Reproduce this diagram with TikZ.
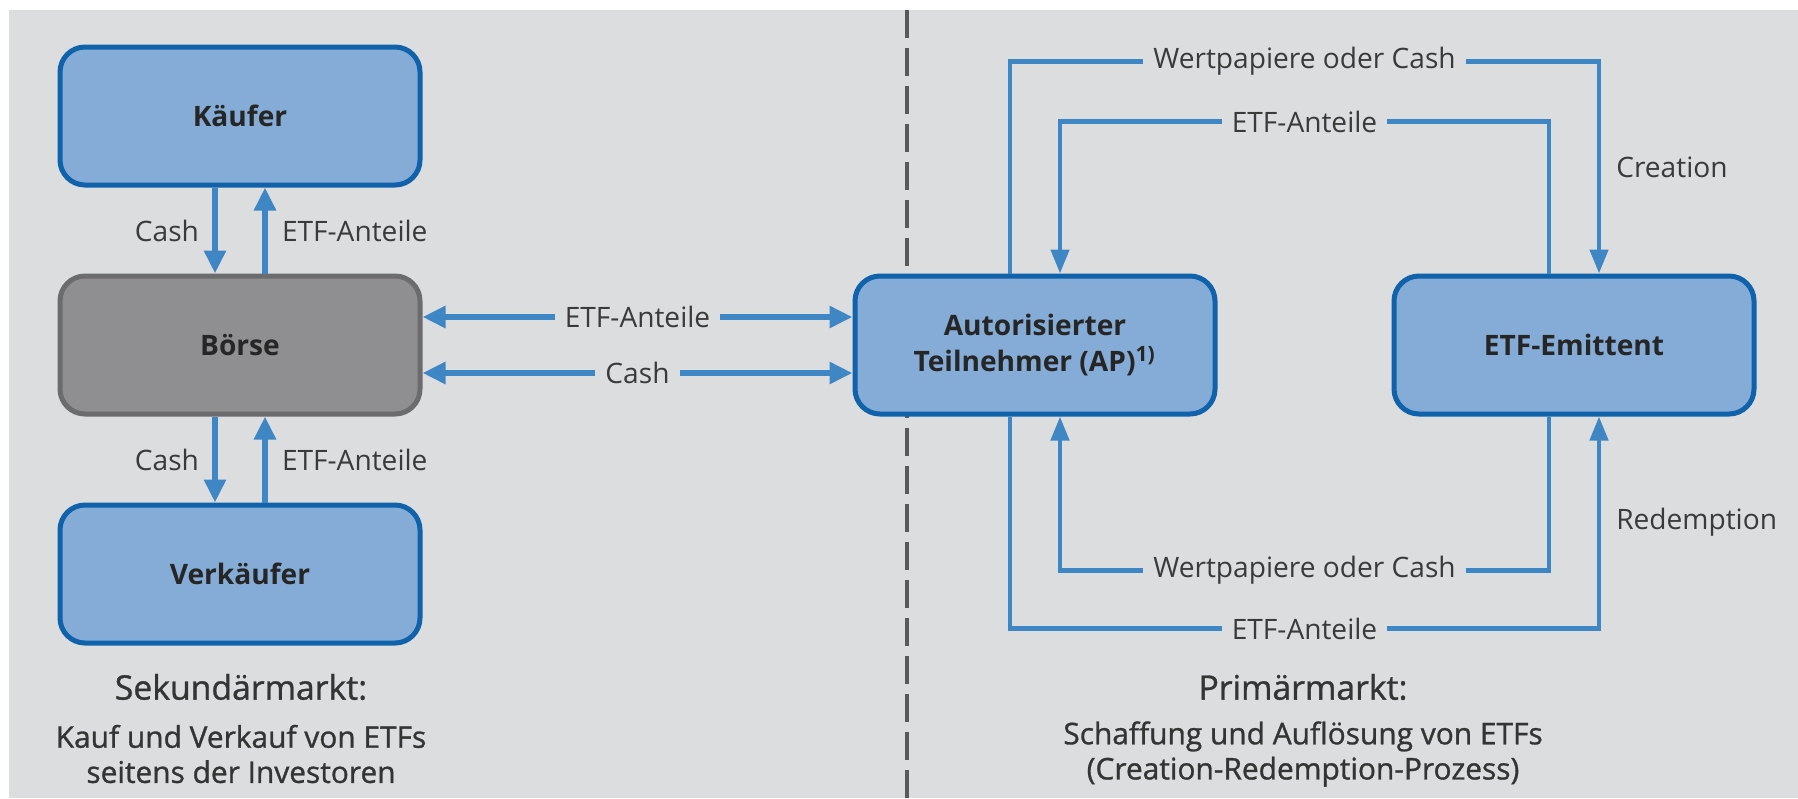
\documentclass[tikz,border=0pt]{standalone}
\usepackage{fontspec}
\setmainfont{Open Sans}
\newfontfamily\captionfont[FakeBold=1]{Open Sans}
\usetikzlibrary{positioning,arrows.meta}

\definecolor{bggray}{HTML}{DCDDDF}
\definecolor{boxblue}{HTML}{84ACD6}
\definecolor{lineblue}{HTML}{1062AA}
\definecolor{flowblue}{HTML}{3E87C4}
\definecolor{boersegray}{HTML}{8F8F92}
\definecolor{boerseline}{HTML}{6C6C6E}
\definecolor{txtgray}{HTML}{3A3A3A}

\tikzset{
  party/.style={draw=lineblue, fill=boxblue, line width=0.5mm, rounded corners=2.5mm,
    minimum width=36mm, minimum height=13.8mm, align=center, text=black!85,
    font=\fontsize{8}{10}\selectfont\bfseries},
  flow/.style={draw=flowblue, line width=0.6mm, -{Triangle[length=2.3mm,width=2.1mm]}},
  flowboth/.style={flow, {Triangle[length=2.3mm,width=2.1mm]}-{Triangle[length=2.3mm,width=2.1mm]}},
  loopflow/.style={flow, line width=0.45mm, -{Triangle[length=2.4mm,width=1.8mm]}},
  lbl/.style={fill=bggray, inner xsep=1mm, inner ysep=0.5mm, text=txtgray,
    font=\fontsize{8}{10}\selectfont},
  side/.style={inner sep=0.5mm, text=txtgray, font=\fontsize{8}{10}\selectfont},
  caption/.style={text=txtgray!90!black, align=center, font=\captionfont\fontsize{8.5}{10}\selectfont}
}

\begin{document}
\begin{tikzpicture}[x=0.1mm, y=-0.1mm, node distance=8.6mm]
\useasboundingbox (0,0) rectangle (1798,798);
\fill[bggray] (9,10) rectangle (1798,798);
\draw[black!65, line width=0.4mm, dash pattern=on 2.8mm off 1mm] (907,10) -- (907,798);

% Sekundaermarkt
\node[party] (kaeufer) at (240,116) {Käufer};
\node[party, below=of kaeufer, fill=boersegray, draw=boerseline] (boerse) {Börse};
\node[party, below=of boerse] (verkaeufer) {Verkäufer};

\draw[flow] ([xshift=-2.5mm]kaeufer.south) -- node[midway, left=0.8mm, side] {Cash} ([xshift=-2.5mm]boerse.north);
\draw[flow] ([xshift=2.5mm]boerse.north) -- node[midway, right=0.9mm, side] {ETF-Anteile} ([xshift=2.5mm]kaeufer.south);
\draw[flow] ([xshift=-2.5mm]boerse.south) -- node[midway, left=0.8mm, side] {Cash} ([xshift=-2.5mm]verkaeufer.north);
\draw[flow] ([xshift=2.5mm]verkaeufer.north) -- node[midway, right=0.9mm, side] {ETF-Anteile} ([xshift=2.5mm]boerse.south);

% Primaermarkt
\node[party, right=43mm of boerse] (ap) {Autorisierter\\Teilnehmer (AP)\textsuperscript{1)}};
\node[party, right=17.4mm of ap] (emittent) {ETF-Emittent};

\draw[flowboth] ([yshift=2.8mm]boerse.east) -- node[lbl] {ETF-Anteile} ([yshift=2.8mm]ap.west);
\draw[flowboth] ([yshift=-2.8mm]boerse.east) -- node[lbl] {Cash} ([yshift=-2.8mm]ap.west);

\draw[loopflow] ([xshift=-2.5mm]ap.north) -- ++(0,-212)
  -| node[lbl, pos=0.25] {Wertpapiere oder Cash} node[side, pos=0.75, right=1mm] {Creation}
  ([xshift=2.5mm]emittent.north);
\draw[loopflow] ([xshift=-2.5mm]emittent.north) -- ++(0,-152)
  -| node[lbl, pos=0.25] {ETF-Anteile} ([xshift=2.5mm]ap.north);
\draw[loopflow] ([xshift=-2.5mm]emittent.south) -- ++(0,154)
  -| node[lbl, pos=0.25] {Wertpapiere oder Cash} ([xshift=2.5mm]ap.south);
\draw[loopflow] ([xshift=-2.5mm]ap.south) -- ++(0,212)
  -| node[lbl, pos=0.25] {ETF-Anteile} node[side, pos=0.75, right=1mm] {Redemption}
  ([xshift=2.5mm]emittent.south);

% Beschriftung
\node[caption, font=\captionfont\fontsize{9.6}{11}\selectfont] (sekundaer) at (241,687) {Sekundärmarkt:};
\node[caption] (sekundartext) at (241,754) {Kauf und Verkauf von ETFs\\seitens der Investoren};
\node[caption, font=\captionfont\fontsize{9.6}{11}\selectfont] (primaer) at (1303,687) {Primärmarkt:};
\node[caption] (primaertext) at (1303,754) {Schaffung und Auflösung von ETFs\\(Creation-Redemption-Prozess)};
\end{tikzpicture}
\end{document}
